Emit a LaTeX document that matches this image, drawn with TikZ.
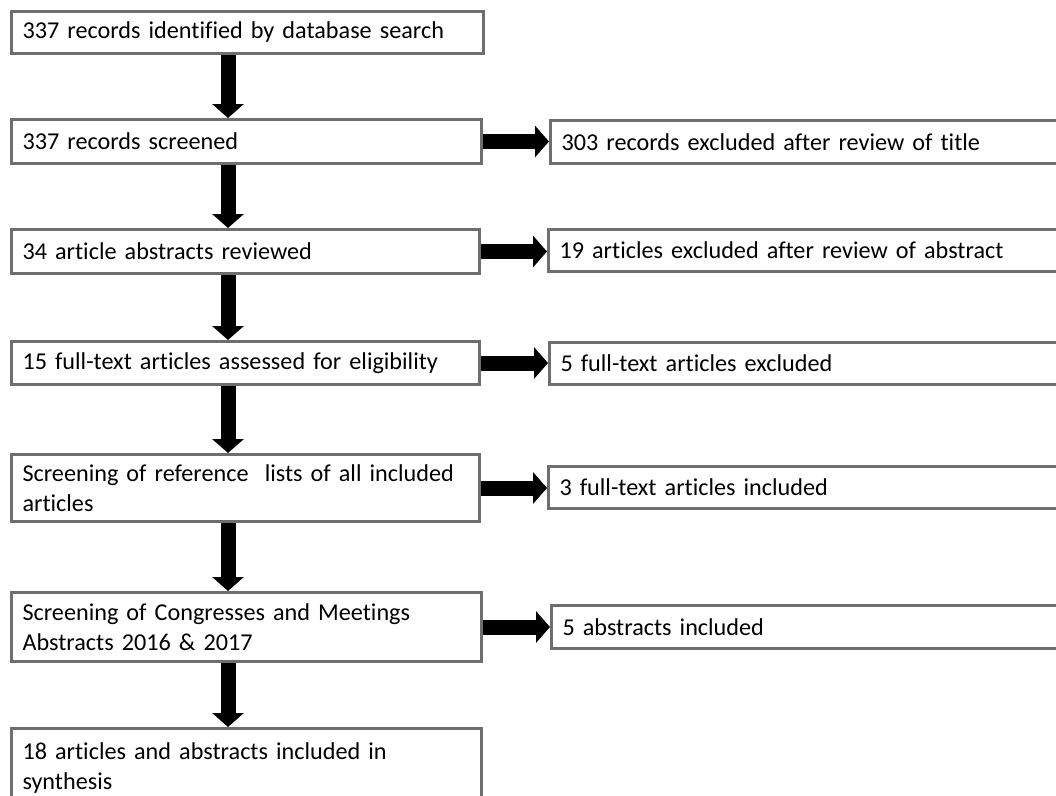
\documentclass[tikz,border=0pt]{standalone}
\usepackage{fontspec}
\setmainfont{Carlito}[Ligatures=NoCommon]
\usetikzlibrary{arrows.meta}
\definecolor{boxgray}{HTML}{6E6E6E}
\tikzset{
  fbox/.style={draw=boxgray, line width=3pt, fill=white, anchor=north west,
    inner xsep=10pt, inner ysep=0pt, align=left, font=\fontsize{24.2}{30}\selectfont},
  fatarrow/.style={draw=black, line width=15pt,
    -{Triangle[width=31pt,length=14pt]}},
}
\begin{document}
\begin{tikzpicture}[x=1pt,y=-1pt]
\useasboundingbox (0,0) rectangle (1056,795);
\fill[white] (0,0) rectangle (1056,795);
\coordinate (ax) at (228,0);
% left column
\node[fbox, minimum width=472pt, minimum height=42pt, text width=450pt] (b1) at (10,10) {337 records identified by database search};
\node[fbox, minimum width=470pt, minimum height=44pt, text width=448pt] (b2) at (10,118) {337 records screened};
\node[fbox, minimum width=468pt, minimum height=44pt, text width=446pt] (b3) at (10,228) {34 article abstracts reviewed};
\node[fbox, minimum width=468pt, minimum height=43pt, text width=446pt] (b4) at (10,340) {15 full-text articles assessed for eligibility};
\node[fbox, minimum width=468pt, minimum height=67pt, text width=446pt] (b5) at (10,453) {Screening of reference \ lists of all included\\articles};
\node[fbox, minimum width=470pt, minimum height=69pt, text width=448pt] (b6) at (10,591) {Screening of Congresses and Meetings\\Abstracts 2016 \& 2017};
\node[fbox, minimum width=470pt, minimum height=80pt, text width=448pt] (b7) at (10,727) {18 articles and abstracts included in\\synthesis};
% right column
\node[fbox, minimum width=520pt, minimum height=43pt, text width=498pt] (r1) at (549,119) {303 records excluded after review of title};
\node[fbox, minimum width=520pt, minimum height=42pt, text width=498pt] (r2) at (547,228) {19 articles excluded after review of abstract};
\node[fbox, minimum width=520pt, minimum height=42pt, text width=498pt] (r3) at (548,341) {5 full-text articles excluded};
\node[fbox, minimum width=520pt, minimum height=42pt, text width=498pt] (r4) at (547,465) {3 full-text articles included};
\node[fbox, minimum width=520pt, minimum height=43pt, text width=498pt] (r5) at (550,604) {5 abstracts included};
% vertical arrows
\draw[fatarrow] (b1.south -| ax) -- (b2.north -| ax);
\draw[fatarrow] (b2.south -| ax) -- (b3.north -| ax);
\draw[fatarrow] (b3.south -| ax) -- (b4.north -| ax);
\draw[fatarrow] (b4.south -| ax) -- (b5.north -| ax);
\draw[fatarrow] (b5.south -| ax) -- (b6.north -| ax);
\draw[fatarrow] (b6.south -| ax) -- (b7.north -| ax);
% horizontal arrows
\draw[fatarrow] (b2.east) -- (r1.west |- b2.east);
\draw[fatarrow] (b3.east) -- (r2.west |- b3.east);
\draw[fatarrow] (b4.east) -- (r3.west |- b4.east);
\draw[fatarrow] (b5.east) -- (r4.west |- b5.east);
\draw[fatarrow] (b6.east) -- (r5.west |- b6.east);
\end{tikzpicture}
\end{document}
